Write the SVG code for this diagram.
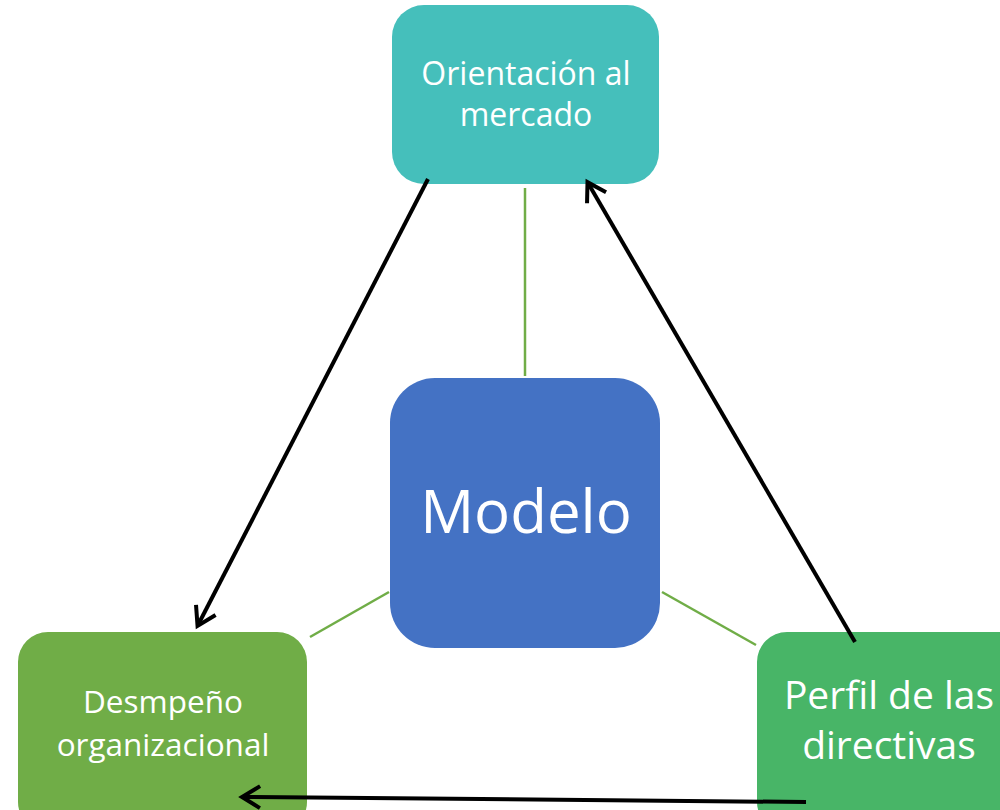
<svg xmlns="http://www.w3.org/2000/svg" width="1000" height="810" viewBox="0 0 1000 810">
<style>
text{font-family:"Open Sans","Noto Sans","Liberation Sans",sans-serif;fill:#fff;text-anchor:middle}
.arr{stroke:#000;stroke-width:4;fill:none;marker-end:url(#ah)}
.lnk{stroke:#70AD47;stroke-width:2.5;fill:none}
</style>
<defs>
<marker id="ah" markerWidth="10" markerHeight="10" refX="8" refY="5" orient="auto" markerUnits="userSpaceOnUse" viewBox="0 0 10 10" overflow="visible">
<polyline points="-9,-6 9,5 -9,16" fill="none" stroke="#000" stroke-width="4"/>
</marker>
</defs>
<rect width="1000" height="810" fill="#fff"/>
<g id="orientacion">
<rect x="392" y="5" width="267" height="179" rx="32" fill="#45BFBB"/>
<text x="526" y="85" font-size="32">Orientación al</text>
<text x="526" y="126" font-size="32">mercado</text>
</g>
<g id="modelo">
<rect x="390" y="378" width="270" height="270" rx="45" fill="#4472C4"/>
<text x="526" y="533" font-size="60">Modelo</text>
</g>
<g id="desempeno">
<rect x="18" y="632" width="289" height="200" rx="30" fill="#70AD47"/>
<text x="163" y="713" font-size="31.5">Desmpeño</text>
<text x="163" y="756" font-size="31.5">organizacional</text>
</g>
<g id="perfil">
<rect x="757" y="632" width="280" height="200" rx="30" fill="#48B567"/>
<text x="889" y="709" font-size="39">Perfil de las</text>
<text x="889" y="759" font-size="39">directivas</text>
</g>
<g id="connectors">
<line class="lnk" x1="525" y1="188" x2="525" y2="376"/>
<line class="lnk" x1="310" y1="637" x2="389" y2="592"/>
<line class="lnk" x1="662" y1="592" x2="756" y2="645"/>
<line class="arr" x1="428" y1="179" x2="198" y2="625"/>
<line class="arr" x1="855" y1="642" x2="588" y2="183"/>
<line class="arr" x1="806" y1="802" x2="243" y2="797"/>
</g>
</svg>
